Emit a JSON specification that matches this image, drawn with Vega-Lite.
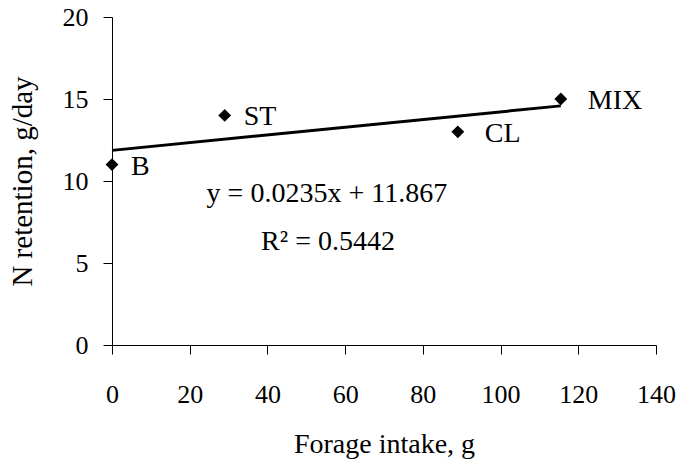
{
  "$schema": "https://vega.github.io/schema/vega-lite/v6.json",
  "width": 544,
  "height": 328,
  "autosize": {"type": "none"},
  "padding": {"left": 112, "top": 17, "right": 22, "bottom": 121},
  "background": "white",
  "config": {
    "view": {"stroke": null},
    "font": "Liberation Serif",
    "axis": {
      "grid": false,
      "domainColor": "black",
      "domainWidth": 1,
      "tickColor": "black",
      "tickWidth": 1,
      "tickSize": 9,
      "labelFlush": false,
      "labelOverlap": false,
      "labelFont": "Liberation Serif",
      "labelFontSize": 26,
      "labelColor": "black",
      "titleFont": "Liberation Serif",
      "titleFontSize": 28,
      "titleFontWeight": "normal",
      "titleColor": "black"
    }
  },
  "datasets": {
    "points": [
      {"diet": "B", "intake": 0, "retention": 11},
      {"diet": "ST", "intake": 29, "retention": 14},
      {"diet": "CL", "intake": 89, "retention": 13},
      {"diet": "MIX", "intake": 115.5, "retention": 15}
    ],
    "fit": [
      {"intake": 0, "retention": 11.867},
      {"intake": 115.5, "retention": 14.581}
    ],
    "notes": [
      {"text": "y = 0.0235x + 11.867", "intake": 55.3, "retention": 9.2},
      {"text": "R² = 0.5442", "intake": 55.6, "retention": 6.29}
    ]
  },
  "layer": [
    {
      "data": {"name": "fit"},
      "mark": {"type": "line", "color": "black", "strokeWidth": 3},
      "encoding": {
        "x": {
          "field": "intake", "type": "quantitative",
          "scale": {"domain": [0, 140], "nice": false, "zero": true},
          "axis": {"values": [0, 20, 40, 60, 80, 100, 120, 140], "title": "Forage intake, g", "labelPadding": 27, "titlePadding": 23}
        },
        "y": {
          "field": "retention", "type": "quantitative",
          "scale": {"domain": [0, 20], "nice": false},
          "axis": {"values": [0, 5, 10, 15, 20], "title": "N retention, g/day", "titleFontSize": 29, "labelPadding": 15, "titlePadding": 25}
        }
      }
    },
    {
      "data": {"name": "points"},
      "mark": {"type": "point", "shape": "diamond", "filled": true, "color": "black", "size": 165, "opacity": 1},
      "encoding": {
        "x": {"field": "intake", "type": "quantitative"},
        "y": {"field": "retention", "type": "quantitative"}
      }
    },
    {
      "data": {"name": "points"},
      "transform": [{"filter": "datum.diet === 'B' || datum.diet === 'ST'"}],
      "mark": {"type": "text", "align": "left", "baseline": "middle", "dx": 19, "dy": 2, "fontSize": 28, "font": "Liberation Serif", "color": "black"},
      "encoding": {
        "x": {"field": "intake", "type": "quantitative"},
        "y": {"field": "retention", "type": "quantitative"},
        "text": {"field": "diet"}
      }
    },
    {
      "data": {"name": "points"},
      "transform": [{"filter": "datum.diet === 'CL' || datum.diet === 'MIX'"}],
      "mark": {"type": "text", "align": "left", "baseline": "middle", "dx": 27, "dy": 2, "fontSize": 28, "font": "Liberation Serif", "color": "black"},
      "encoding": {
        "x": {"field": "intake", "type": "quantitative"},
        "y": {"field": "retention", "type": "quantitative"},
        "text": {"field": "diet"}
      }
    },
    {
      "data": {"name": "notes"},
      "mark": {"type": "text", "align": "center", "baseline": "middle", "fontSize": 28, "font": "Liberation Serif", "color": "black"},
      "encoding": {
        "x": {"field": "intake", "type": "quantitative"},
        "y": {"field": "retention", "type": "quantitative"},
        "text": {"field": "text"}
      }
    }
  ]
}
